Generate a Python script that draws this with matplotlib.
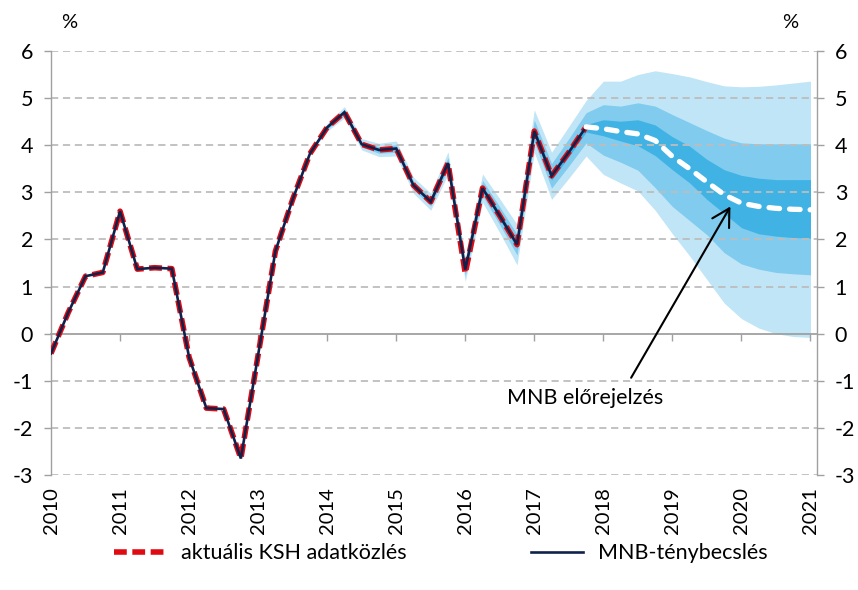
import matplotlib
matplotlib.use('Agg')
import matplotlib.pyplot as plt
import numpy as np
from matplotlib.lines import Line2D

plt.rcParams['font.family'] = ['Lato', 'DejaVu Sans']
plt.rcParams['axes.unicode_minus'] = False

# ---------------- data ----------------
hist_start = 2010.0          # first quarter of the historical series
ksh = [-0.42, 0.45, 1.22, 1.30, 2.60, 1.37, 1.40, 1.38,
       -0.50, -1.58, -1.60, -2.65, -0.45, 1.75, 2.85, 3.82,
       4.38, 4.70, 4.02, 3.90, 3.93, 3.15, 2.80, 3.62,
       1.28, 3.09, 2.50, 1.89, 4.30, 3.35, 3.85, 4.39]
mnb = [-0.42, 0.45, 1.22, 1.30, 2.60, 1.37, 1.40, 1.38,
       -0.50, -1.58, -1.60, -2.65, -0.45, 1.75, 2.85, 3.82,
       4.38, 4.70, 4.02, 3.90, 3.93, 3.15, 2.80, 3.62,
       1.36, 3.09, 2.50, 1.89, 4.30, 3.35, 3.85, 4.39]

# uncertainty half-widths around the MNB estimate, 2013Q4 .. 2017Q3
band_hist_start = 2013.75
hist_outer_w = [0.00, 0.08, 0.12, 0.12, 0.14, 0.16, 0.17, 0.18, 0.24,
                0.25, 0.30, 0.36, 0.43, 0.45, 0.50, 0.55]
hist_mid_w = [0.00, 0.04, 0.06, 0.06, 0.07, 0.08, 0.09, 0.09, 0.12,
              0.13, 0.16, 0.19, 0.22, 0.23, 0.26, 0.29]
hist_inner_w = [0.00, 0.02, 0.02, 0.02, 0.03, 0.03, 0.03, 0.04, 0.05,
                0.05, 0.06, 0.07, 0.08, 0.09, 0.09, 0.09]

# forecast, 2017Q4 .. 2021Q1
fc_start = 2017.75
fc_center = [4.39, 4.35, 4.29, 4.24, 4.10, 3.76, 3.50, 3.22, 2.95,
             2.77, 2.70, 2.66, 2.64, 2.63]
fc_outer_hi = [4.95, 5.36, 5.36, 5.50, 5.58, 5.52, 5.45, 5.35, 5.26,
               5.24, 5.25, 5.28, 5.32, 5.36]
fc_outer_lo = [3.77, 3.38, 3.20, 3.03, 2.62, 2.12, 1.65, 1.15, 0.65,
               0.32, 0.12, 0.00, -0.06, -0.08]
fc_mid_hi = [4.69, 4.86, 4.83, 4.90, 4.83, 4.65, 4.48, 4.31, 4.15,
             4.05, 4.03, 4.03, 4.03, 4.03]
fc_mid_lo = [4.05, 3.79, 3.64, 3.47, 3.10, 2.70, 2.40, 2.10, 1.72,
             1.48, 1.37, 1.30, 1.27, 1.25]
fc_inner_hi = [4.44, 4.54, 4.51, 4.54, 4.43, 4.18, 3.98, 3.70, 3.48,
               3.36, 3.30, 3.27, 3.27, 3.27]
fc_inner_lo = [4.28, 4.20, 4.09, 3.99, 3.78, 3.48, 3.20, 2.85, 2.55,
               2.25, 2.12, 2.07, 2.04, 2.03]

years = list(range(2010, 2022))
y_ticks = list(range(-3, 7))

legend_labels = ['aktuális KSH adatközlés', 'MNB-ténybecslés']
annot_text = 'MNB előrejelzés'

# ---------------- colours ----------------
c_outer = '#bfe5f6'
c_mid = '#80cbee'
c_inner = '#40b3e4'
c_red = '#e00a12'
c_navy = '#10224c'
c_grid = '#bdbdbd'
c_axis = '#a0a0a0'

FS = 15.5

# ---------------- positions ----------------
x_hist = hist_start + 0.25 * np.arange(len(ksh))
x_fc = fc_start + 0.25 * np.arange(len(fc_center))
i0 = int(round((band_hist_start - hist_start) / 0.25))
mnb_arr = np.array(mnb)
hist_c = mnb_arr[i0:i0 + len(hist_outer_w)]
x_band = np.concatenate([band_hist_start + 0.25 * np.arange(len(hist_outer_w)), x_fc])


def band(w, lo_fc, hi_fc):
    lo = np.concatenate([hist_c - np.array(w), lo_fc])
    hi = np.concatenate([hist_c + np.array(w), hi_fc])
    return lo, hi


fig = plt.figure(figsize=(8.58, 5.90), dpi=100)
ax = fig.add_axes([51 / 858, 1 - 475 / 590, (816.7 - 51) / 858, (475 - 51) / 590])

ax.set_xlim(2010, 2021.09)
ax.set_ylim(-3, 6)

for w, lo_fc, hi_fc, col in [(hist_outer_w, fc_outer_lo, fc_outer_hi, c_outer),
                             (hist_mid_w, fc_mid_lo, fc_mid_hi, c_mid),
                             (hist_inner_w, fc_inner_lo, fc_inner_hi, c_inner)]:
    lo, hi = band(w, lo_fc, hi_fc)
    ax.fill_between(x_band, lo, hi, color=col, lw=0, zorder=1)

ax.set_yticks(y_ticks)
for t in y_ticks:
    if t == 0:
        continue
    ax.axhline(t, color=c_grid, lw=1.3, ls=(0, (4, 2.6)), zorder=1.5)

# lines
ax.plot(x_hist, ksh, color=c_red, lw=4.0, ls=(0, (2.3, 1.0)), zorder=3)
ax.plot(x_hist, mnb, color=c_navy, lw=1.9, zorder=4, solid_joinstyle='miter')
ax.plot(x_fc, fc_center, color='white', lw=3.8, ls=(0, (2.0, 1.9)),
        dash_capstyle='round', zorder=5)

# spines / axes
ax.spines['top'].set_visible(False)
for s in ['left', 'right']:
    ax.spines[s].set_color(c_axis)
    ax.spines[s].set_linewidth(1.0)
ax.spines['bottom'].set_position(('data', 0))
ax.spines['bottom'].set_color(c_axis)
ax.spines['bottom'].set_linewidth(1.3)
ax.spines['bottom'].set_zorder(1.6)

ax.set_xticks(years)
ax.tick_params(axis='x', which='both', direction='out', length=5, width=1,
               color=c_axis, labelbottom=False)
ax.tick_params(axis='y', which='both', direction='out', length=5, width=1,
               color=c_axis, left=True, right=True, labelleft=True, labelright=True,
               labelsize=FS, pad=8)

sec = ax.secondary_xaxis('bottom')
sec.set_xticks(years)
sec.set_xticklabels([str(y) for y in years], rotation=90, fontsize=14.5)
sec.tick_params(length=0, pad=9)
sec.spines['bottom'].set_visible(False)

# % labels
fig.text(69 / 858, 1 - 22 / 590, '%', fontsize=FS - 1, ha='center', va='center')
fig.text(790 / 858, 1 - 22 / 590, '%', fontsize=FS - 1, ha='center', va='center')

# annotation
ax.annotate(annot_text, xy=(2019.84, 2.70), xytext=(2017.73, -1.36),
            fontsize=FS, ha='center', va='center',
            arrowprops=dict(arrowstyle='->,head_length=0.8,head_width=0.45',
                            color='black', lw=1.5, relpos=(0.76, 1.0),
                            shrinkA=6, shrinkB=0),
            zorder=6)

# legend
h1 = Line2D([], [], color=c_red, lw=4.0, ls=(0, (2.3, 1.0)))
h2 = Line2D([], [], color=c_navy, lw=1.9)
fig.legend([h1, h2], legend_labels, loc='center', bbox_to_anchor=(0.514, 0.062),
           ncol=2, frameon=False, fontsize=FS, handlelength=2.4,
           columnspacing=5.8, handletextpad=0.7)

fig.savefig('out.png', dpi=100)
